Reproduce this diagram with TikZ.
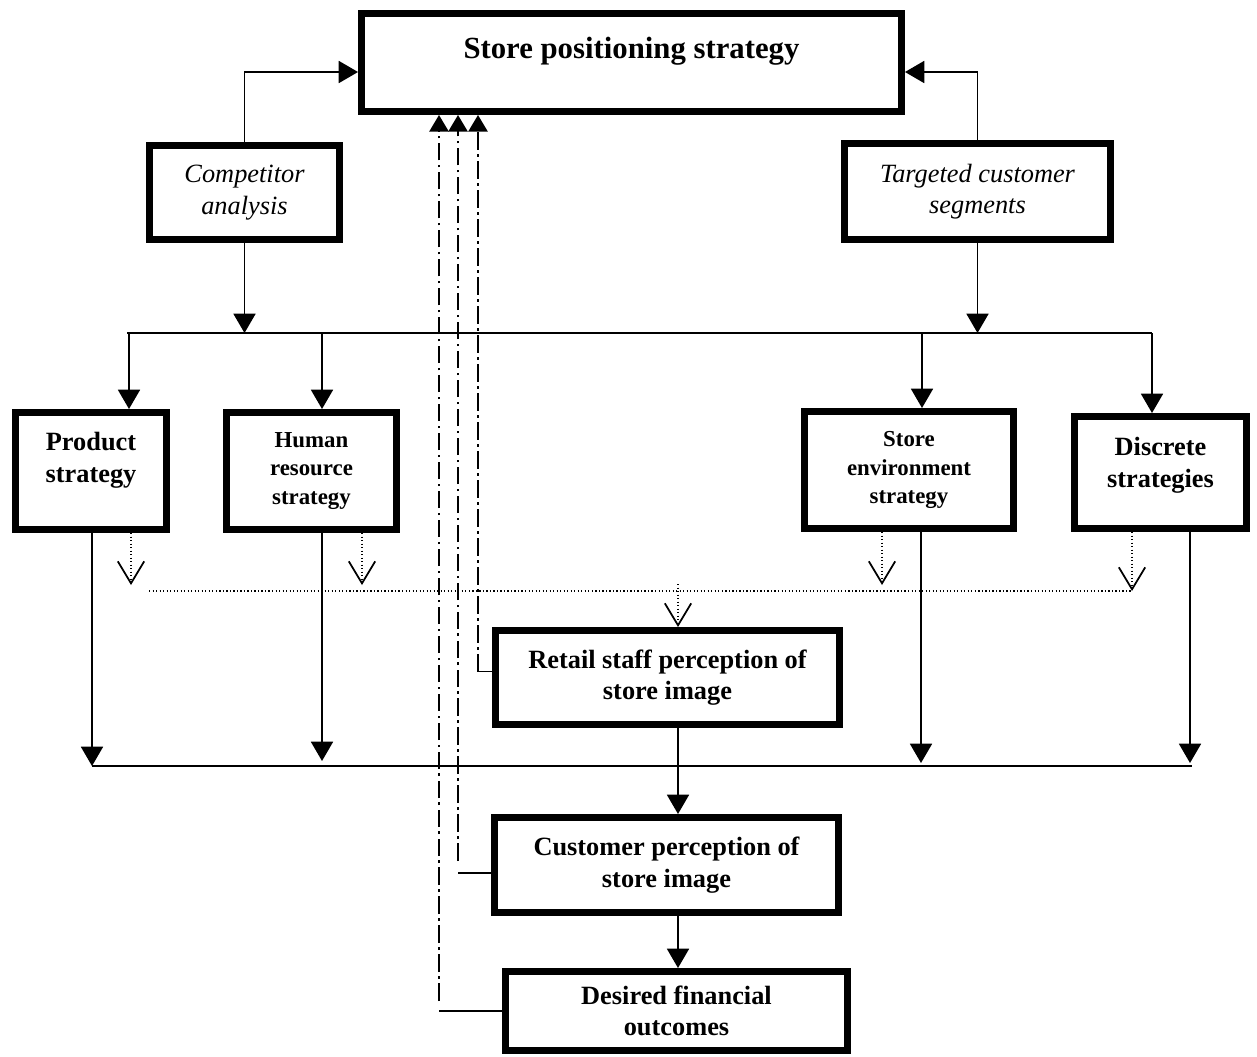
\documentclass[tikz,border=0pt]{standalone}
\usepackage{fontspec}
\setmainfont{Liberation Serif}
\usetikzlibrary{arrows.meta,calc}
% lift box contents without changing their extents
\newcommand\upby[2]{\raisebox{#1}[\height][\depth]{#2}}
\begin{document}
\begin{tikzpicture}[x=0.02cm,y=-0.02cm,
  box/.style={draw=black, line width=4pt, fill=white, align=center, inner sep=2pt},
  bigtxt/.style={font=\fontsize{17.5}{21}\selectfont\bfseries},
  boldtxt/.style={font=\fontsize{15}{18}\selectfont\bfseries},
  smalltxt/.style={font=\fontsize{13}{16}\selectfont\bfseries},
  ittxt/.style={font=\fontsize{15}{18}\selectfont\itshape},
  plain/.style={line width=1.1pt},
  link/.style={line width=1.1pt, -{Triangle[length=11pt,width=12.5pt]}},
  fb/.style={line width=1.1pt, dash pattern=on 10pt off 2.5pt on 1.5pt off 2.5pt,
    -{Triangle[length=9.5pt,width=11pt]}},
  dotline/.style={line width=0.7pt, dash pattern=on 0.7pt off 1.3pt},
  hint/.style={dotline, -{Straight Barb[length=12.5pt,width=15pt,line width=1pt]}},
]
\fill[white] (0,0) rectangle (1257,1056);
\useasboundingbox (0,0) rectangle (1257,1056);

% boxes
\node[box, bigtxt, minimum width=10.8cm, minimum height=1.96cm] (top) at (631.5,62.5)
  {\upby{6.2pt}{Store positioning strategy}};
\node[box, ittxt, minimum width=3.8cm, minimum height=1.88cm] (comp) at (244.5,192.5)
  {Competitor\\analysis};
\node[box, ittxt, minimum width=5.32cm, minimum height=1.92cm] (targ) at (977.5,191.5)
  {Targeted customer\\segments};
\node[box, boldtxt, minimum width=3.02cm, minimum height=2.34cm] (prod) at (91,471)
  {\upby{6pt}{\begin{tabular}{@{}c@{}}Product\\strategy\end{tabular}}};
\node[box, smalltxt, minimum width=3.4cm, minimum height=2.34cm] (hr) at (311.5,471)
  {Human\\resource\\strategy};
\node[box, smalltxt, minimum width=4.18cm, minimum height=2.34cm] (env) at (909,470)
  {Store\\environment\\strategy};
\node[box, boldtxt, minimum width=3.44cm, minimum height=2.24cm] (disc) at (1160.5,472.5)
  {\upby{4.3pt}{\begin{tabular}{@{}c@{}}Discrete\\strategies\end{tabular}}};
\node[box, boldtxt, minimum width=6.88cm, minimum height=1.88cm] (retail) at (667.5,677.5)
  {Retail staff perception of\\store image};
\node[box, boldtxt, minimum width=6.88cm, minimum height=1.9cm] (cust) at (666.5,865)
  {Customer perception of\\store image};
\node[box, boldtxt, minimum width=6.84cm, minimum height=1.58cm] (fin) at (676.5,1011)
  {Desired financial\\outcomes};

% analysis feeding the positioning strategy
\draw[link] (comp.north) |- ($(top.west)+(0,9.5)$);
\draw[link] (targ.north) |- ($(top.east)+(0,9.5)$);

% distribution bar to the four strategies
\coordinate (b1) at (129,333);
\coordinate (b2) at (322,333);
\coordinate (b3) at (922,333);
\coordinate (b4) at (1152,333);
\draw[plain] ($(b1)+(-2,0)$) -- (b4);
\draw[link] (comp.south) -- (comp.south |- b1);
\draw[link] (targ.south) -- (targ.south |- b1);
\draw[link] (b1) -- (b1 |- prod.north);
\draw[link] (b2) -- (b2 |- hr.north);
\draw[link] (b3) -- (b3 |- env.north);
\draw[link] (b4) -- (b4 |- disc.north);

% strategies to the collecting bar
\coordinate (o1) at (92,766);
\coordinate (o2) at (322,766);
\coordinate (o3) at (921,766);
\coordinate (o4) at (1190,766);
\draw[link] (o1 |- prod.south) -- (o1);
\draw[link] (o2 |- hr.south) -- ($(o2)+(0,-5)$);
\draw[link] (o3 |- env.south) -- ($(o3)+(0,-3)$);
\draw[link] (o4 |- disc.south) -- ($(o4)+(0,-3)$);
\draw[plain] (o1) -- ($(o4)+(2,0)$);

% dotted influence on the retail staff
\coordinate (h1) at (131,585);
\coordinate (h2) at (362,585);
\coordinate (h3) at (882,585);
\coordinate (h4) at (1132,591);
\coordinate (hl) at (149,591);
\coordinate (h5) at (678,584);
\draw[hint] (h1 |- prod.south) -- (h1);
\draw[hint] (h2 |- hr.south) -- (h2);
\draw[hint] (h3 |- env.south) -- (h3);
\draw[hint] (h4 |- disc.south) -- (h4);
\draw[dotline] (hl) -- (h4);
\draw[hint] (h5) -- (h5 |- retail.north);

% main chain
\coordinate (m) at (678,0);
\draw[link] (retail.south -| m) -- (cust.north -| m);
\draw[link] (cust.south -| m) -- (fin.north -| m);

% feedback to the positioning strategy
\coordinate (c1) at (439,0);
\coordinate (c2) at (458,0);
\coordinate (c3) at (478,0);
\coordinate (rw) at ($(retail.west)+(0,-6)$);
\coordinate (cw) at ($(cust.west)+(0,8)$);
\draw[plain] (rw) -- (rw -| c3);
\draw[fb] (rw -| c3) -- (top.south -| c3);
\draw[plain] (cw) -- (cw -| c2);
\draw[fb] ($(cw -| c2)+(0,-12)$) -- (top.south -| c2);
\draw[plain] (fin.west) -- (fin.west -| c1);
\draw[fb] ($(fin.west -| c1)+(0,-10)$) -- (top.south -| c1);
\end{tikzpicture}
\end{document}
